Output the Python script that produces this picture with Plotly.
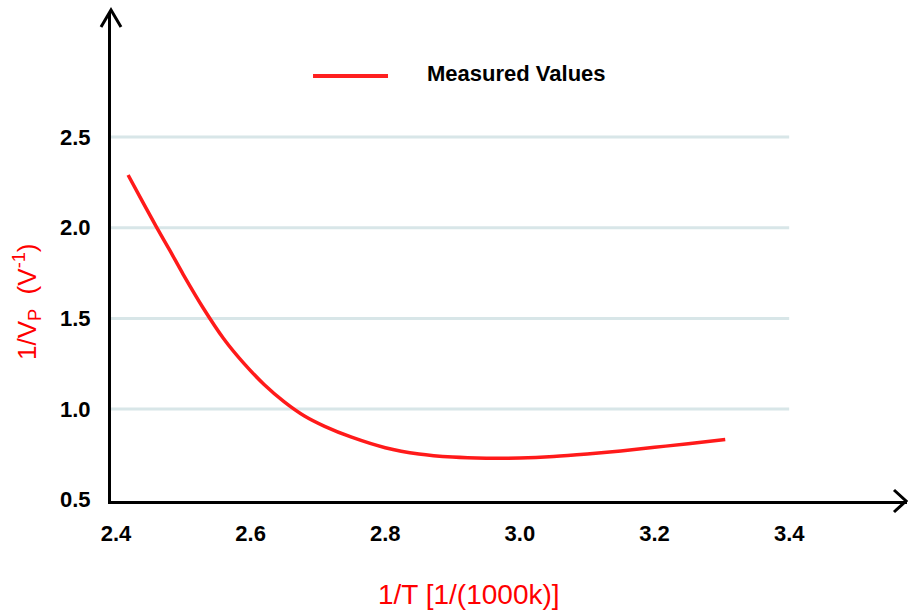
import plotly.graph_objects as go

# Data
inv_T = [2.418, 2.440, 2.460, 2.480, 2.500, 2.530, 2.560, 2.590, 2.620, 2.650,
         2.680, 2.710, 2.750, 2.800, 2.850, 2.900, 2.950, 3.000, 3.050, 3.100,
         3.150, 3.200, 3.250, 3.305]
inv_Vp = [2.291, 2.140, 2.005, 1.875, 1.742, 1.555, 1.388, 1.252, 1.136, 1.040,
          0.962, 0.905, 0.845, 0.787, 0.752, 0.735, 0.729, 0.730, 0.738, 0.752,
          0.769, 0.789, 0.809, 0.832]
x_ticks = [2.4, 2.6, 2.8, 3.0, 3.2, 3.4]
x_tick_labels = ["2.4", "2.6", "2.8", "3.0", "3.2", "3.4"]
y_ticks = [0.5, 1.0, 1.5, 2.0, 2.5]
y_tick_labels = ["0.5", "1.0", "1.5", "2.0", "2.5"]
grid_y = [1.0, 1.5, 2.0, 2.5]
series_name = "Measured Values"

X_MIN, X_MAX = 2.3926, 3.575
Y_MIN, Y_MAX = 0.493, 3.19

fig = go.Figure()
fig.add_trace(go.Scatter(x=inv_T, y=inv_Vp, mode="lines", name=series_name,
                         line=dict(color="#ff1a1a", width=3.5, shape="spline", smoothing=1.0),
                         showlegend=False))

shapes = []
for gy in grid_y:
    shapes.append(dict(type="line", xref="x", yref="y", x0=X_MIN, x1=x_ticks[-1],
                       y0=gy, y1=gy, line=dict(color="#d8e6e8", width=3), layer="below"))
# arrowheads
shapes.append(dict(type="path", xref="paper", yref="paper", xsizemode="pixel", ysizemode="pixel",
                   xanchor=0, yanchor=1, path="M -10,-15 L 0,2 L 10,-15",
                   line=dict(color="black", width=3)))
shapes.append(dict(type="path", xref="paper", yref="paper", xsizemode="pixel", ysizemode="pixel",
                   xanchor=1, yanchor=0, path="M -13,11 L -1,0 L -13,-11",
                   line=dict(color="black", width=3)))
# legend swatch
shapes.append(dict(type="line", xref="paper", yref="paper", x0=0.2538, x1=0.348, y0=0.869, y1=0.869,
                   line=dict(color="#ff2020", width=4)))

annotations = [
    dict(text="<b>" + series_name + "</b>", xref="paper", yref="paper", x=0.3945, y=0.875,
         xanchor="left", yanchor="middle", showarrow=False,
         font=dict(family="Liberation Sans", size=22, color="black")),
    dict(text="1/T [1/(1000k)]", xref="paper", yref="paper", x=0.4497, y=-0.192,
         xanchor="center", yanchor="middle", showarrow=False,
         font=dict(family="Liberation Sans", size=28, color="#ff0000")),
    dict(text="1/V<sub>P</sub>  (V<sup>-1</sup>)", xref="paper", yref="paper", x=-0.1055, y=0.407,
         xanchor="center", yanchor="middle", textangle=-90, showarrow=False,
         font=dict(family="Liberation Sans", size=26, color="#ff0000")),
]

fig.update_layout(
    width=908, height=613,
    margin=dict(l=111, r=1, t=12, b=112, pad=0),
    paper_bgcolor="white", plot_bgcolor="white",
    shapes=shapes, annotations=annotations,
    xaxis=dict(range=[X_MIN, X_MAX], tickvals=x_ticks,
               ticktext=["<b>" + t + "</b>" for t in x_tick_labels],
               showgrid=False, zeroline=False, showline=True, linecolor="black", linewidth=3,
               ticks="outside", ticklen=11, tickcolor="rgba(0,0,0,0)",
               tickfont=dict(family="Liberation Sans", size=22, color="black")),
    yaxis=dict(range=[Y_MIN, Y_MAX], tickvals=y_ticks,
               ticktext=["<b>" + t + "</b>" for t in y_tick_labels],
               showgrid=False, zeroline=False, showline=True, linecolor="black", linewidth=3,
               ticks="outside", ticklen=13, tickcolor="rgba(0,0,0,0)",
               tickfont=dict(family="Liberation Sans", size=22, color="black")),
)

fig.write_html("out.html")
